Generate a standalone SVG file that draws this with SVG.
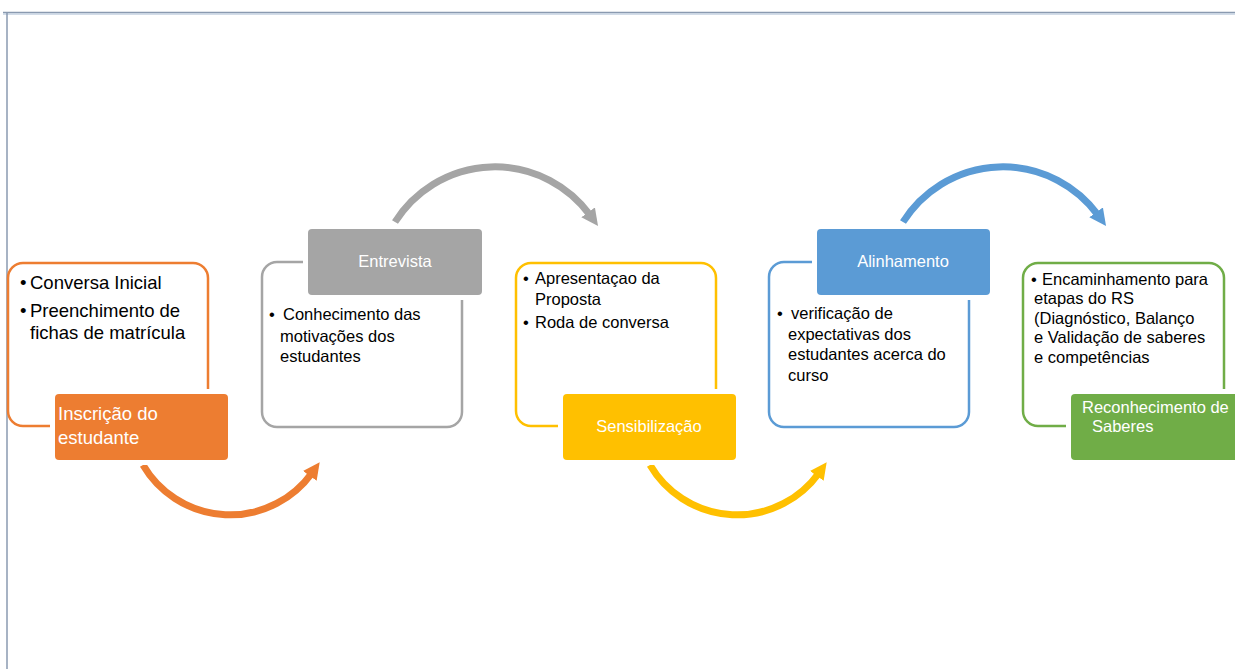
<svg xmlns="http://www.w3.org/2000/svg" width="1235" height="669" viewBox="0 0 1235 669">
<style>
text{font-family:"Liberation Sans",Arial,sans-serif;}
.b{font-size:16.5px;fill:#000;}
.b1{font-size:18.5px;fill:#000;}
.l{font-size:16.5px;fill:#fff;}
.l1{font-size:18.5px;fill:#fff;}
.ol{fill:#fff;stroke-width:2.5;}
.gap{fill:#fff;}
.arc{fill:none;stroke-width:7;}
</style>
<defs>
<marker id="mo" viewBox="0 0 10 10" refX="2" refY="5" markerWidth="2.4" markerHeight="2.4" orient="auto"><path d="M0,0 L10,5 L0,10 z" fill="#ED7D31"/></marker>
<marker id="mg" viewBox="0 0 10 10" refX="2" refY="5" markerWidth="2.4" markerHeight="2.4" orient="auto"><path d="M0,0 L10,5 L0,10 z" fill="#A5A5A5"/></marker>
<marker id="my" viewBox="0 0 10 10" refX="2" refY="5" markerWidth="2.4" markerHeight="2.4" orient="auto"><path d="M0,0 L10,5 L0,10 z" fill="#FFC000"/></marker>
<marker id="mb" viewBox="0 0 10 10" refX="2" refY="5" markerWidth="2.4" markerHeight="2.4" orient="auto"><path d="M0,0 L10,5 L0,10 z" fill="#5B9BD5"/></marker>
</defs>
<rect width="1235" height="669" fill="#fff"/>
<g id="frame">
<line x1="3" y1="12.5" x2="1235" y2="12.5" stroke="#8a9ab0" stroke-width="1.5"/>
<line x1="3" y1="14" x2="1235" y2="14" stroke="#c3d0e0" stroke-width="1.5"/>
<line x1="7" y1="12" x2="7" y2="669" stroke="#8a9ab0" stroke-width="1.5"/>
</g>
<g id="connectors">
<path class="arc" stroke="#ED7D31" d="M143 465 A101 101 0 0 0 311.8 473.2" marker-end="url(#mo)"/>
<path class="arc" stroke="#A5A5A5" d="M395 222 A118 118 0 0 1 590.1 215.1" marker-end="url(#mg)"/>
<path class="arc" stroke="#FFC000" d="M650 465 A101 101 0 0 0 818.8 473.2" marker-end="url(#my)"/>
<path class="arc" stroke="#5B9BD5" d="M903 222 A118 118 0 0 1 1098.1 215.1" marker-end="url(#mb)"/>
</g>
<g id="node1">
<rect class="ol" x="8" y="263" width="200" height="163" rx="15" stroke="#ED7D31"/>
<rect class="gap" x="50" y="389" width="183" height="76" rx="6"/>
<rect x="55" y="394" width="173" height="66" rx="4" fill="#ED7D31"/>
<text class="b1" x="20" y="289">•</text><text class="b1" x="30" y="289">Conversa Inicial</text>
<text class="b1" x="20" y="317">•</text><text class="b1" x="30" y="317">Preenchimento de</text>
<text class="b1" x="30" y="339">fichas de matrícula</text>
<text class="l1" x="58" y="420">Inscrição do</text>
<text class="l1" x="58" y="444">estudante</text>
</g>
<g id="node2">
<rect class="ol" x="262" y="262" width="200" height="165" rx="15" stroke="#A5A5A5"/>
<rect class="gap" x="303" y="224" width="184" height="76" rx="6"/>
<rect x="308" y="229" width="174" height="66" rx="4" fill="#A5A5A5"/>
<text class="l" x="395" y="267" text-anchor="middle">Entrevista</text>
<text class="b" x="269" y="320">•</text><text class="b" x="283" y="320">Conhecimento das</text>
<text class="b" x="280" y="342">motivações dos</text>
<text class="b" x="280" y="362">estudantes</text>
</g>
<g id="node3">
<rect class="ol" x="516" y="263" width="200" height="163" rx="15" stroke="#FFC000"/>
<rect class="gap" x="558" y="389" width="183" height="76" rx="6"/>
<rect x="563" y="394" width="173" height="66" rx="4" fill="#FFC000"/>
<text class="b" x="523" y="284">•</text><text class="b" x="535" y="284">Apresentaçao da</text>
<text class="b" x="535" y="305">Proposta</text>
<text class="b" x="523" y="328">•</text><text class="b" x="535" y="328">Roda de conversa</text>
<text class="l" x="649" y="432" text-anchor="middle">Sensibilização</text>
</g>
<g id="node4">
<rect class="ol" x="769" y="262" width="200" height="165" rx="15" stroke="#5B9BD5"/>
<rect class="gap" x="812" y="224" width="183" height="76" rx="6"/>
<rect x="817" y="229" width="173" height="66" rx="4" fill="#5B9BD5"/>
<text class="l" x="903" y="267" text-anchor="middle">Alinhamento</text>
<text class="b" x="777" y="319">•</text><text class="b" x="791" y="319">verificação de</text>
<text class="b" x="788" y="340">expectativas dos</text>
<text class="b" x="788" y="360">estudantes acerca do</text>
<text class="b" x="788" y="381">curso</text>
</g>
<g id="node5">
<rect class="ol" x="1023" y="263" width="201" height="163" rx="15" stroke="#70AD47"/>
<rect class="gap" x="1066" y="389" width="190" height="76" rx="6"/>
<rect x="1071" y="394" width="180" height="66" rx="4" fill="#70AD47"/>
<text class="b" x="1031" y="285">•</text><text class="b" x="1042" y="285">Encaminhamento para</text>
<text class="b" x="1034" y="304">etapas do RS</text>
<text class="b" x="1034" y="324">(Diagnóstico, Balanço</text>
<text class="b" x="1034" y="343">e Validação de saberes</text>
<text class="b" x="1034" y="363">e competências</text>
<text class="l" x="1082" y="413">Reconhecimento de</text>
<text class="l" x="1092" y="432">Saberes</text>
</g>
</svg>
